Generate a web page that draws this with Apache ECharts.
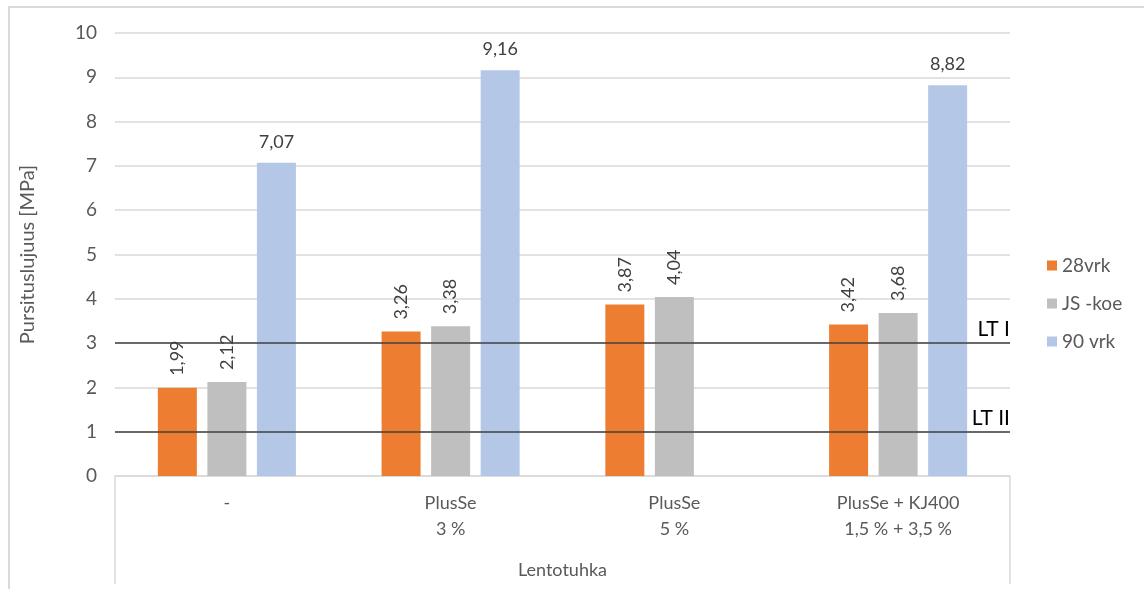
<!DOCTYPE html>
<html>
<head>
<meta charset="utf-8">
<script src="https://cdn.jsdelivr.net/npm/echarts@6/dist/echarts.min.js"></script>
<style>
  html, body { margin: 0; padding: 0; background: #fff; }
  #main { width: 1144px; height: 589px; }
</style>
</head>
<body>
<div id="main"></div>
<script>
// categories (two-line labels as in the sheet)
const categories = ['-', 'PlusSe\n3 %', 'PlusSe\n5 %', 'PlusSe + KJ400\n1,5 % + 3,5 %'];
const seriesNames = ['28vrk', 'JS -koe', '90 vrk'];
const vrk28 = [1.99, 3.26, 3.87, 3.42];
const jsKoe = [2.12, 3.38, 4.04, 3.68];
const vrk90 = [7.07, 9.16, null, 8.82];
const limits = [['LT I', 3], ['LT II', 1]];

const FONT = 'Lato';
const txt = '#595959';

function fmt(p) {
  return p.value == null ? '' : p.value.toFixed(2).replace('.', ',');
}

let rotLabel = {
  show: true,
  position: 'top',
  rotate: 90,
  align: 'left',
  verticalAlign: 'middle',
  distance: 12,
  color: '#404040',
  fontSize: 18,
  fontFamily: FONT,
  formatter: fmt
};

let chart = echarts.init(document.getElementById('main'));

chart.setOption({
  animation: false,
  textStyle: { fontFamily: FONT },
  color: ['#ED7D31', '#BFBFBF', '#B4C7E7'],
  grid: { left: 115, right: 134, top: 33, bottom: 113 },
  legend: {
    orient: 'vertical',
    left: 1042,
    top: 251,
    icon: 'rect',
    itemWidth: 10,
    itemHeight: 10,
    itemGap: 19,
    textStyle: { color: txt, fontSize: 19, fontFamily: FONT },
    data: seriesNames
  },
  xAxis: {
    type: 'category',
    data: categories,
    name: 'Lentotuhka',
    nameLocation: 'middle',
    nameGap: 85,
    nameTextStyle: { color: txt, fontSize: 18, fontFamily: FONT },
    axisLine: { lineStyle: { color: '#d9d9d9', width: 1.5 } },
    axisTick: { show: false },
    axisLabel: { color: txt, fontSize: 18, lineHeight: 26, margin: 14, fontFamily: FONT }
  },
  yAxis: {
    type: 'value',
    min: 0,
    max: 10,
    interval: 1,
    name: 'Pursituslujuus [MPa]',
    nameLocation: 'middle',
    nameGap: 77,
    nameTextStyle: { color: txt, fontSize: 20, fontFamily: FONT },
    axisLine: { show: false },
    axisTick: { show: false },
    axisLabel: { color: txt, fontSize: 19, margin: 18, fontFamily: FONT },
    splitLine: { lineStyle: { color: '#d9d9d9', width: 1.5 } }
  },
  series: [
    {
      name: seriesNames[0],
      type: 'bar',
      data: vrk28,
      barWidth: 39,
      barGap: '27%',
      label: rotLabel,
      markLine: {
        silent: true,
        symbol: 'none',
        lineStyle: { color: '#404040', width: 1.5, type: 'solid' },
        label: {
          show: true,
          position: 'insideEndTop',
          formatter: '{b}',
          color: '#000',
          fontSize: 21,
          fontFamily: FONT,
          distance: [0, 3]
        },
        data: limits.map(d => ({ name: d[0], yAxis: d[1] }))
      }
    },
    {
      name: seriesNames[1],
      type: 'bar',
      data: jsKoe,
      barWidth: 39,
      barGap: '27%',
      label: rotLabel
    },
    {
      name: seriesNames[2],
      type: 'bar',
      data: vrk90,
      barWidth: 39,
      barGap: '27%',
      label: {
        show: true,
        position: 'top',
        distance: 12,
        color: '#404040',
        fontSize: 18,
        fontFamily: FONT,
        formatter: fmt
      }
    }
  ],
  graphic: [
    // outer chart frame
    {
      type: 'rect',
      shape: { x: 9, y: 7, width: 1150, height: 600 },
      style: { fill: 'none', stroke: '#d9d9d9', lineWidth: 2 },
      silent: true
    },
    // category axis box sides
    {
      type: 'polyline',
      shape: { points: [[115, 476], [115, 584]] },
      style: { stroke: '#d9d9d9', lineWidth: 1.5 },
      silent: true
    },
    {
      type: 'polyline',
      shape: { points: [[1010, 476], [1010, 584]] },
      style: { stroke: '#d9d9d9', lineWidth: 1.5 },
      silent: true
    }
  ]
});
</script>
</body>
</html>
